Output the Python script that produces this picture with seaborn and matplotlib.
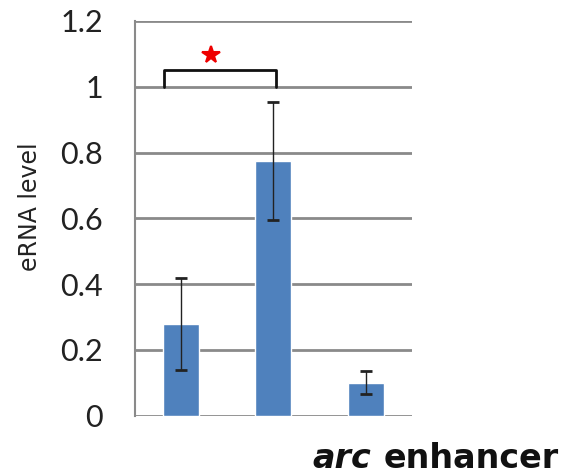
import matplotlib
matplotlib.use("Agg")
import matplotlib.pyplot as plt
import seaborn as sns
import pandas as pd

# eRNA levels for the arc enhancer in three conditions
conditions = ["c1", "c2", "c3"]
erna_level = [0.277, 0.775, 0.100]
erna_err = [0.14, 0.18, 0.035]
ytick_values = [0, 0.2, 0.4, 0.6, 0.8, 1.0, 1.2]
ytick_labels = ["0", "0.2", "0.4", "0.6", "0.8", "1", "1.2"]

df = pd.DataFrame({"condition": conditions, "level": erna_level})

sns.set_style("white")
plt.rcParams["font.family"] = ["Lato", "DejaVu Sans"]

fig = plt.figure(figsize=(5.73, 4.74), dpi=100)
ax = fig.add_axes([0.2356, 0.1234, 0.4834, 0.8323])

grid_col = "#8a8a8a"
sns.barplot(data=df, x="condition", y="level", color="#4F81BD", saturation=1,
            width=0.39, errorbar=None, ax=ax, zorder=3)
ax.errorbar(range(len(conditions)), erna_level, yerr=erna_err, fmt="none",
            ecolor="#222222", elinewidth=1.0, capsize=4, capthick=2.0, zorder=4)

ax.set_xlim(-0.5, 2.5)
ax.set_ylim(0, 1.2)
ax.set_yticks(ytick_values)
ax.set_yticklabels(ytick_labels, fontsize=22, color="#222222")
ax.set_xticks([])
ax.set_xlabel("")
ax.set_ylabel("eRNA level", fontsize=17, color="#222222",
              family=["DejaVu Sans"])
ax.yaxis.set_label_coords(-0.335, 0.53)
ax.yaxis.grid(True, color=grid_col, linewidth=2.0, zorder=0)
ax.set_axisbelow(True)
ax.tick_params(axis="y", length=9, width=1.5, color=grid_col, pad=14, direction="out")
for side in ["top", "right", "bottom"]:
    ax.spines[side].set_visible(False)
ax.spines["left"].set_color(grid_col)
ax.spines["left"].set_linewidth(1.5)

# significance bracket between the first two conditions
ax.plot([-0.19, -0.19, 1.03, 1.03], [1.0, 1.051, 1.051, 1.0], color="#111111",
        linewidth=2.0, clip_on=False, zorder=5, solid_joinstyle="round")
ax.plot([0.32], [1.097], marker="*", markersize=13, color="#ee0000",
        markeredgecolor="#ee0000", markeredgewidth=1.5, clip_on=False, zorder=5)

# axis caption: gene name in italics
fig.text(312 / 573, 0.013, "arc", fontsize=24, fontweight="bold", style="italic",
         family="DejaVu Sans", color="#111111", ha="left", va="baseline")
fig.text(384 / 573, 0.013, "enhancer", fontsize=24, fontweight="bold",
         family="DejaVu Sans", color="#111111", ha="left", va="baseline")

fig.savefig("out.png", dpi=100)
